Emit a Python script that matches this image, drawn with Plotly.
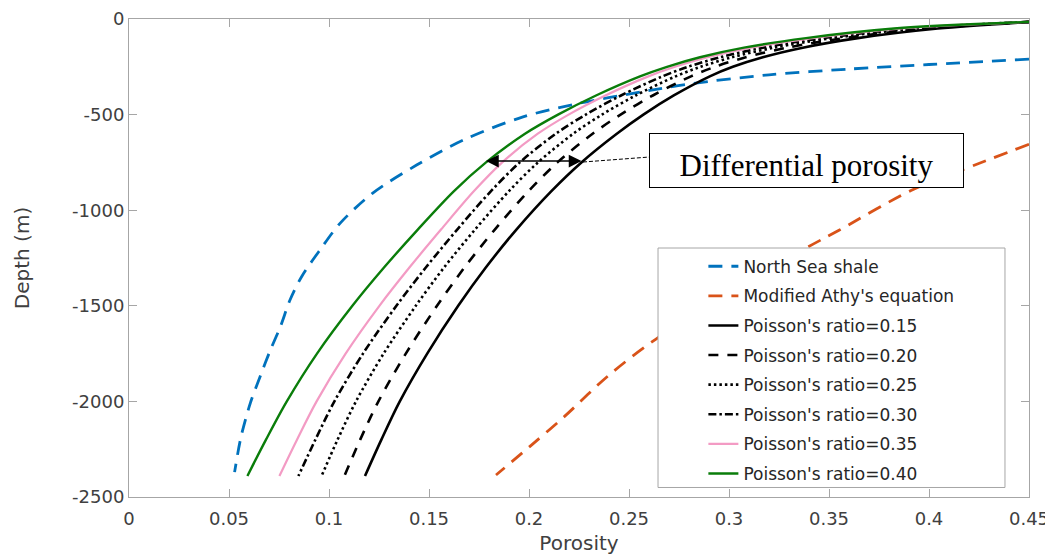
import plotly.graph_objects as go

# ---------------- data ----------------
depth = [-15, -50, -100, -150, -200, -250, -300, -400, -500, -600, -750, -900,
         -1100, -1300, -1500, -1750, -2000, -2200, -2390]

por_015 = [0.45, 0.4044, 0.3644, 0.3369, 0.3169, 0.3019, 0.2904, 0.2724, 0.2572, 0.2439,
           0.2262, 0.2112, 0.1938, 0.1784, 0.1646, 0.1491, 0.1354, 0.1262, 0.1180]
por_020 = [0.45, 0.3985, 0.3574, 0.3290, 0.3084, 0.2930, 0.2810, 0.2619, 0.2458, 0.2318,
           0.2142, 0.1998, 0.1830, 0.1677, 0.1540, 0.1384, 0.1247, 0.1156, 0.1077]
por_025 = [0.45, 0.3937, 0.3517, 0.3225, 0.3015, 0.2858, 0.2733, 0.2533, 0.2365, 0.2221,
           0.2045, 0.1900, 0.1731, 0.1575, 0.1434, 0.1273, 0.1135, 0.1043, 0.0963]
por_030 = [0.45, 0.3895, 0.3468, 0.3169, 0.2956, 0.2795, 0.2667, 0.2460, 0.2284, 0.2134,
           0.1954, 0.1810, 0.1642, 0.1484, 0.1337, 0.1170, 0.1027, 0.0932, 0.0847]
por_035 = [0.45, 0.3851, 0.3416, 0.3110, 0.2893, 0.2730, 0.2597, 0.2382, 0.2198, 0.2044,
           0.1866, 0.1725, 0.1561, 0.1402, 0.1252, 0.1083, 0.0938, 0.0840, 0.0752]
por_040 = [0.45, 0.3825, 0.3385, 0.3075, 0.2855, 0.2690, 0.2555, 0.2335, 0.2145, 0.1980,
           0.1785, 0.1625, 0.1445, 0.1275, 0.1117, 0.0940, 0.0789, 0.0685, 0.0592]

ns_depth = [-210, -238, -262, -292, -340, -380, -440, -512, -633, -764, -912,
            -1069, -1208, -1348, -1470, -1609, -1731, -1852, -2008, -2186, -2370]
ns_por = [0.45, 0.40, 0.36, 0.32, 0.28, 0.257, 0.2255, 0.197, 0.1672, 0.1438, 0.1217,
          0.1055, 0.0955, 0.0863, 0.0805, 0.0757, 0.0707, 0.0662, 0.0607, 0.0560, 0.0528]

athy_depth = [-655, -790, -897, -1105, -1198, -1417, -1674, -1867, -2081, -2235, -2385]
athy_por = [0.45, 0.4165, 0.391, 0.355, 0.3385, 0.303, 0.2635, 0.2395, 0.2175, 0.2005, 0.1835]

x_ticks = [0, 0.05, 0.1, 0.15, 0.2, 0.25, 0.3, 0.35, 0.4, 0.45]
x_ticktext = ["0", "0.05", "0.1", "0.15", "0.2", "0.25", "0.3", "0.35", "0.4", "0.45"]
y_ticks = [0, -500, -1000, -1500, -2000, -2500]
y_ticktext = ["0", "-500", "-1000", "-1500", "-2000", "-2500"]

# ---------------- figure ----------------
fig = go.Figure()

series = [
    ("North Sea shale", ns_por, ns_depth, "#0072BD", "14px,9px", 2.8),
    ("Modified Athy's equation", athy_por, athy_depth, "#D95319", "14px,9px", 2.8),
    ("Poisson's ratio=0.15", por_015, depth, "black", "solid", 2.6),
    ("Poisson's ratio=0.20", por_020, depth, "black", "10px,9px", 2.6),
    ("Poisson's ratio=0.25", por_025, depth, "black", "2.5px,3px", 2.6),
    ("Poisson's ratio=0.30", por_030, depth, "black", "8px,3px,2.5px,3px", 2.6),
    ("Poisson's ratio=0.35", por_035, depth, "#F39BC4", "solid", 2.2),
    ("Poisson's ratio=0.40", por_040, depth, "#0A7D0A", "solid", 2.4),
]
for i, (name, xs, ys, col, dash, w) in enumerate(series):
    fig.add_trace(go.Scatter(
        x=xs, y=ys, mode="lines", name=name,
        line=dict(color=col, dash=dash, width=w, shape="spline", smoothing=0.9),
        legendgroup=f"g{i}",
    ))

axis_common = dict(
    showgrid=False, zeroline=False, showline=True, linecolor="#a6a6a6", linewidth=1,
    mirror="ticks", ticks="inside", ticklen=8, tickcolor="#a6a6a6", automargin=False,
    tickfont=dict(family="DejaVu Sans", size=18, color="#404040"),
    title_font=dict(family="DejaVu Sans", size=20, color="#404040"),
)
fig.update_xaxes(range=[0, 0.45], tickvals=x_ticks, ticktext=x_ticktext,
                 ticklabelstandoff=5,
                 title_text="Porosity", title_standoff=8, **axis_common)
fig.update_yaxes(range=[-2500, 0], tickvals=y_ticks, ticktext=y_ticktext,
                 title_text="Depth (m)", title_standoff=37, **axis_common)

# legend box (opaque, above the curves)
fig.add_shape(type="rect", xref="paper", yref="paper",
              x0=0.5878, x1=0.9733, y0=0.0199, y1=0.5209,
              line=dict(color="#a6a6a6", width=1), fillcolor="white", layer="above")

# the page body adds an 8 px offset, so the figure is 8 px smaller and shifted
fig.update_layout(
    width=1045, height=550,
    margin=dict(l=121, r=24, t=11, b=61),
    paper_bgcolor="white", plot_bgcolor="white",
    showlegend=True,
    legend=dict(x=0.6382, y=0.5195, xanchor="left", yanchor="top",
                bgcolor="rgba(0,0,0,0)", borderwidth=0,
                traceorder="grouped", tracegroupgap=4.5,
                font=dict(family="DejaVu Sans", size=17, color="#262626")),
)

# double arrow "differential porosity"
fig.add_annotation(x=0.1785, y=-743, ax=0.227, ay=-743, xref="x", yref="y",
                   axref="x", ayref="y", text="", showarrow=True,
                   arrowhead=2, startarrowhead=2, arrowside="end+start",
                   arrowsize=1.7, startarrowsize=1.7, arrowwidth=1.5, arrowcolor="black",
                   standoff=0, startstandoff=0)
fig.add_shape(type="line", xref="x", yref="y", x0=0.227, y0=-748, x1=0.26, y1=-722,
              line=dict(color="black", width=1, dash="4px,2px"))
fig.add_annotation(x=0.3385, y=-740, xref="x", yref="y", text="Differential porosity",
                   showarrow=False, xanchor="center", yanchor="middle",
                   width=305, height=45, borderpad=4, borderwidth=1, bordercolor="black",
                   bgcolor="white", valign="bottom",
                   font=dict(family="Liberation Serif", size=31, color="black"))

fig.write_html("out.html")
